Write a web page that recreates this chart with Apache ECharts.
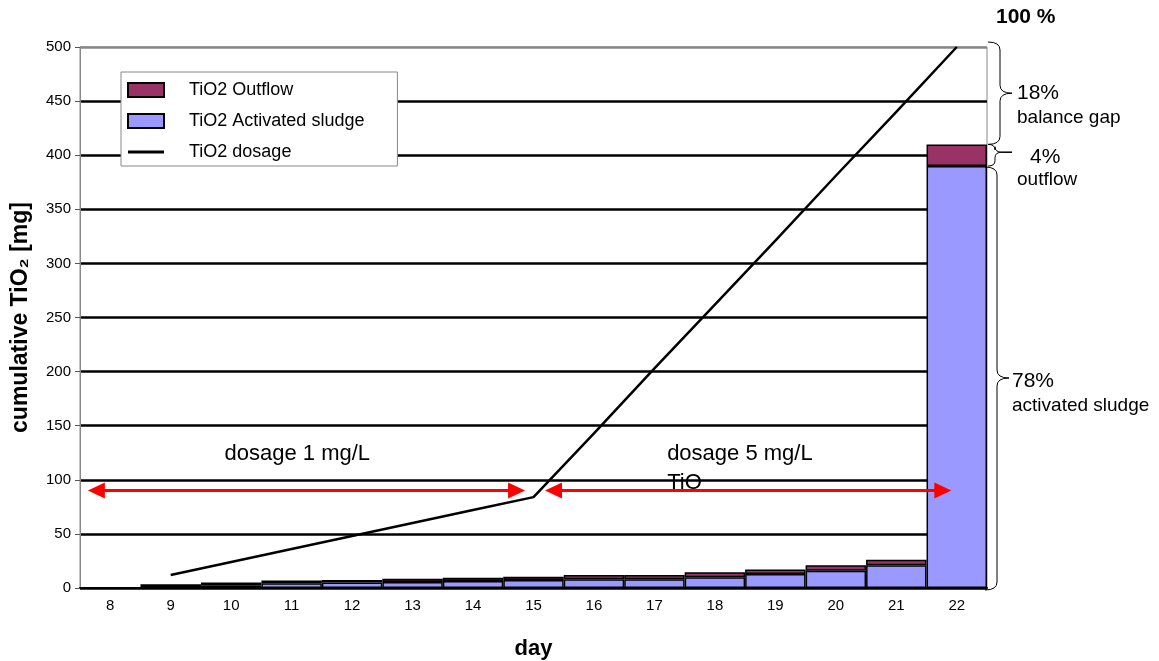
<!DOCTYPE html>
<html>
<head>
<meta charset="utf-8">
<script src="https://cdn.jsdelivr.net/npm/echarts@6/dist/echarts.min.js"></script>
<style>
  html, body { margin: 0; background: #fff; }
  #chart { width: 1159px; height: 661px; }
</style>
</head>
<body>
<div id="chart"></div>
<script>
// data
const days = ['8', '9', '10', '11', '12', '13', '14', '15', '16', '17', '18', '19', '20', '21', '22'];
const sludge = [0, 1, 2.5, 4.5, 5, 5.5, 6.5, 7.5, 8, 8, 10, 13, 16, 21, 390];
const outflow = [0, 2.5, 2.5, 2.5, 2.5, 3, 3, 3, 4, 4, 4.5, 4, 5, 5, 20];
const dosage = [null, 12, 24, 36, 48, 60, 72, 84, 143, 203, 262, 321, 381, 440, 500];

const font = '"Liberation Sans", Arial, sans-serif';
const chart = echarts.init(document.getElementById('chart'));

// grid lines: black, except the top one which is the grey plot border
const splitColors = ['#000', '#000', '#000', '#000', '#000', '#000', '#000', '#000', '#000', '#000', '#888'];

// thin horizontal bar as the legend mark of the line series
const lineIcon = 'path://M0,0M36,14M0,5.5L36,5.5L36,8.5L0,8.5Z';

const option = {
    animation: false,
    textStyle: { fontFamily: font, color: '#000' },
    grid: {
        left: 80, right: 172, top: 47, bottom: 73,
        containLabel: false, outerBoundsMode: 'none',
        show: true, borderColor: '#888', borderWidth: 1
    },
    legend: {
        orient: 'vertical',
        left: 121, top: 72,
        padding: [9, 33, 5, 6],
        itemWidth: 36, itemHeight: 14, itemGap: 13,
        backgroundColor: '#fff',
        borderColor: '#888', borderWidth: 1, borderRadius: 0,
        textStyle: { fontSize: 18, fontFamily: font, color: '#000', padding: [14, 0, 0, 20] },
        data: [
            { name: 'TiO2 Outflow', icon: 'rect' },
            { name: 'TiO2 Activated sludge', icon: 'rect' },
            { name: 'TiO2 dosage', icon: lineIcon }
        ]
    },
    xAxis: {
        type: 'category',
        data: days,
        name: 'day',
        nameLocation: 'middle',
        nameGap: 50,
        nameTextStyle: { fontSize: 22, fontWeight: 'bold', fontFamily: font },
        axisLine: { lineStyle: { color: '#000', width: 2 } },
        axisTick: { length: 5, lineStyle: { color: '#555' } },
        axisLabel: { fontSize: 15, color: '#000', margin: 10 }
    },
    yAxis: {
        type: 'value',
        min: 0, max: 500, interval: 50,
        name: 'cumulative TiO₂ [mg]',
        nameLocation: 'middle',
        nameGap: 48,
        nameTextStyle: { fontSize: 23, fontWeight: 'bold', fontFamily: font },
        axisLine: { show: true, lineStyle: { color: '#888' } },
        axisTick: { show: true, length: 5, lineStyle: { color: '#555' } },
        axisLabel: { fontSize: 15, color: '#000', margin: 9 },
        splitLine: { lineStyle: { color: splitColors, width: 2.5 } }
    },
    series: [
        {
            name: 'TiO2 Activated sludge',
            type: 'bar',
            stack: 'tio2',
            barCategoryGap: '0%',
            itemStyle: { color: '#9999ff', borderColor: '#000', borderWidth: 1.5 },
            data: sludge
        },
        {
            name: 'TiO2 Outflow',
            type: 'bar',
            stack: 'tio2',
            barCategoryGap: '0%',
            itemStyle: { color: '#993366', borderColor: '#000', borderWidth: 1.5 },
            data: outflow
        },
        {
            name: 'TiO2 dosage',
            type: 'line',
            symbol: 'none',
            lineStyle: { color: '#000', width: 2.5 },
            itemStyle: { color: '#000' },
            data: dosage,
            z: 5
        }
    ]
};
chart.setOption(option);

// annotations placed from data coordinates (category index may be fractional)
const x0 = chart.convertToPixel({ gridIndex: 0 }, [0, 0])[0];
const band = chart.convertToPixel({ gridIndex: 0 }, [1, 0])[0] - x0;
const xAt = i => x0 + i * band;
const yAt = v => chart.convertToPixel({ gridIndex: 0 }, [0, v])[1];

function arrow(i1, i2, v) {
    const ax = xAt(i1), bx = xAt(i2), y = yAt(v);
    const red = '#ff0000', h = 17, w = 8;
    return [
        { type: 'line', shape: { x1: ax + h - 2, y1: y, x2: bx - h + 2, y2: y }, style: { stroke: red, lineWidth: 3 }, z: 50 },
        { type: 'polygon', shape: { points: [[ax, y], [ax + h, y - w], [ax + h, y + w]] }, style: { fill: red }, z: 50 },
        { type: 'polygon', shape: { points: [[bx, y], [bx - h, y - w], [bx - h, y + w]] }, style: { fill: red }, z: 50 }
    ];
}

function brace(bx, y1, y2, w, ym) {
    const xm = bx + w / 2, xt = bx + w;
    const r = Math.min(8, (y2 - y1) / 4);
    const st = { stroke: '#000', lineWidth: 1, fill: null };
    const q = (sx, sy, cx, cy, ex, ey) => ({
        type: 'bezierCurve', shape: { x1: sx, y1: sy, x2: ex, y2: ey, cpx1: cx, cpy1: cy }, style: st, z: 50
    });
    return [
        q(bx, y1, xm, y1, xm, y1 + r),
        { type: 'line', shape: { x1: xm, y1: y1 + r, x2: xm, y2: ym - r }, style: st, z: 50 },
        q(xm, ym - r, xm, ym, xt, ym),
        q(xt, ym, xm, ym, xm, ym + r),
        { type: 'line', shape: { x1: xm, y1: ym + r, x2: xm, y2: y2 - r }, style: st, z: 50 },
        q(xm, y2 - r, xm, y2, bx, y2)
    ];
}

function label(x, y, text, size, bold) {
    return {
        type: 'text', x: x, y: y, z: 60,
        style: {
            text: text, fontSize: size, fontWeight: bold ? 'bold' : 'normal',
            fontFamily: font, fill: '#000', verticalAlign: 'middle'
        }
    };
}

const last = days.length - 1;
const right = xAt(last + 0.5);
const yTop = yAt(500) - 5;
const yTotal = yAt(sludge[last] + outflow[last]);
const ySludge = yAt(sludge[last]);
const yZero = yAt(0);
const yArrow = yAt(90);
const yMid4 = (yTotal + ySludge) / 2 - 3;

let els = [];
els = els.concat(arrow(-0.37, 6.86, 90));
els = els.concat(arrow(7.19, 13.91, 90));
els = els.concat(brace(right + 1, yTop, yTotal, 24, (yTop + yTotal) / 2));
els = els.concat(brace(right + 1, yTotal, ySludge, 14, yMid4));
els.push({ type: 'line', shape: { x1: right + 15, y1: yMid4, x2: right + 25, y2: yMid4 }, style: { stroke: '#000', lineWidth: 1.5 }, z: 50 });
els = els.concat(brace(right - 2, ySludge + 1, yZero + 2, 24, 378));

els.push(label(xAt(1.89), yArrow - 37, 'dosage 1 mg/L', 22));
els.push(label(xAt(9.21), yArrow - 37, 'dosage 5 mg/L', 22));
els.push(label(xAt(9.21), yArrow - 8, 'TiO', 22));
els.push(label(right + 9, 17, '100 %', 21, true));
els.push(label(right + 30, 93, '18%', 21));
els.push(label(right + 30, 118, 'balance gap', 19));
els.push(label(right + 43, 157, '4%', 21));
els.push(label(right + 30, 180, 'outflow', 19));
els.push(label(right + 25, 381, '78%', 21));
els.push(label(right + 25, 406, 'activated sludge', 19));

chart.setOption({ graphic: { elements: els } });
</script>
</body>
</html>
